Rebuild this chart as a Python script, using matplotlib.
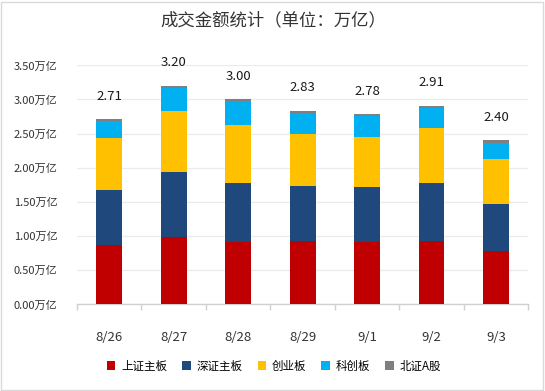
import matplotlib
matplotlib.use("Agg")
import matplotlib.pyplot as plt
import numpy as np
from matplotlib.patches import Rectangle

plt.rcParams['font.family'] = ['Noto Sans CJK SC', 'DejaVu Sans']

dates = ['8/26', '8/27', '8/28', '8/29', '9/1', '9/2', '9/3']
sh_main = [0.865, 0.98, 0.915, 0.92, 0.915, 0.92, 0.78]
sz_main = [0.805, 0.955, 0.86, 0.81, 0.80, 0.85, 0.69]
chinext = [0.76, 0.895, 0.85, 0.76, 0.73, 0.81, 0.66]
star = [0.25, 0.34, 0.35, 0.31, 0.31, 0.30, 0.235]
bse = [0.03, 0.03, 0.025, 0.03, 0.025, 0.03, 0.035]
totals = [2.71, 3.20, 3.00, 2.83, 2.78, 2.91, 2.40]
series_names = ['上证主板', '深证主板', '创业板', '科创板', '北证A股']
colors = ['#C00000', '#1F497D', '#FFC000', '#00B0F0', '#7F7F7F']
yticks = [0, 0.5, 1.0, 1.5, 2.0, 2.5, 3.0, 3.5]

W, H = 545, 391
fig = plt.figure(figsize=(W / 100, H / 100), dpi=100)
ax = fig.add_axes([77 / W, 1 - 304.3 / H, (528.3 - 77) / W, (304.3 - 65.3) / H])

x = np.arange(len(dates))
bottom = np.zeros(len(dates))
handles = []
for vals, name, c in zip([sh_main, sz_main, chinext, star, bse], series_names, colors):
    b = ax.bar(x, vals, width=0.4, bottom=bottom, color=c, label=name, zorder=3)
    handles.append(b)
    bottom += np.array(vals)

for xi, t in zip(x, totals):
    ax.text(xi, t + 0.34, f'{t:.2f}', ha='center', va='center', fontsize=9.5,
            color='#1A1A1A', clip_on=False)

ax.set_xlim(-0.5, len(dates) - 0.5)
ax.set_ylim(0, 3.5)
ax.set_yticks(yticks)
ax.set_yticklabels([f'{v:.2f}万亿' for v in yticks], fontsize=8, color='#333333')
ax.yaxis.grid(True, color='#EBEBEB', linewidth=0.9, zorder=0)
ax.tick_params(axis='y', length=0, pad=14)

ax.set_xticks(x)
ax.set_xticklabels(dates, fontsize=9.5, color='#333333')
ax.set_xticks(np.arange(-0.5, len(dates)), minor=True)
ax.tick_params(axis='x', which='major', length=0, pad=19)
ax.tick_params(axis='x', which='minor', length=4, color='#D0D0D0', width=1)

for s in ['top', 'right', 'left']:
    ax.spines[s].set_visible(False)
ax.spines['bottom'].set_color('#D0D0D0')
ax.spines['bottom'].set_linewidth(1)

fig.text(273 / W, 1 - 20 / H, '成交金额统计（单位：万亿）', ha='center', va='center',
         fontsize=12.5, color='#333333')

leg = fig.legend(handles=handles, labels=series_names, loc='center',
                 bbox_to_anchor=(274 / W, 1 - 366 / H), ncol=5, frameon=False,
                 fontsize=8.3, handlelength=0.75, handleheight=0.75,
                 handletextpad=0.5, columnspacing=1.3)

fig.patches.append(Rectangle((1 / W, 1 / H), (W - 3) / W, (H - 3) / H,
                             transform=fig.transFigure, fill=False,
                             edgecolor='#D9D9D9', linewidth=1))

fig.savefig('out.png', dpi=100)
